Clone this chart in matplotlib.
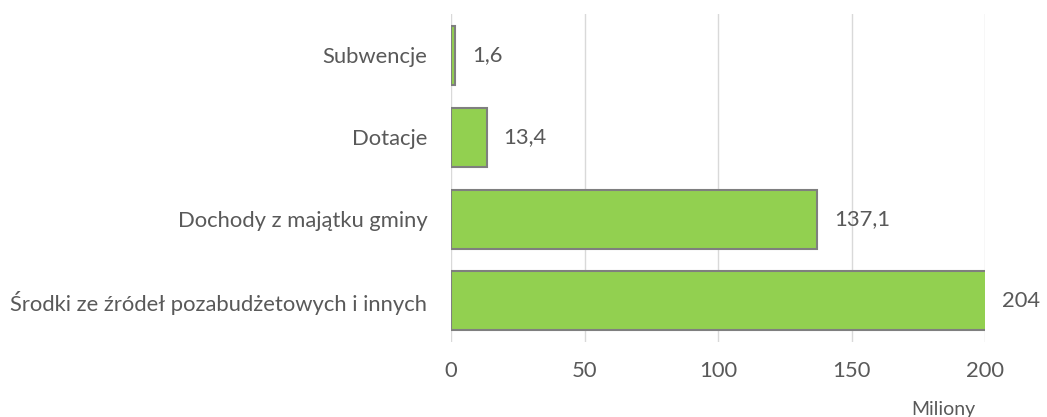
import matplotlib.pyplot as plt

# dane
kategorie = ["Środki ze źródeł pozabudżetowych i innych", "Dochody z majątku gminy", "Dotacje", "Subwencje"]
wartosci = [204, 137.1, 13.4, 1.6]
etykiety = ["204", "137,1", "13,4", "1,6"]
ticki = [0, 50, 100, 150, 200]

plt.rcParams['font.family'] = ['Lato', 'DejaVu Sans']
kolor_tekstu = "#595959"

fig = plt.figure(figsize=(10.47, 4.17), dpi=100)
ax = fig.add_axes([0.4308, 0.18, 0.51, 0.786])

ax.barh(range(len(kategorie)), wartosci, height=0.72, color="#92D050",
        edgecolor="#7F7F7F", linewidth=1.5, zorder=3)
ax.set_xlim(0, 200)
ax.set_ylim(-0.5, len(kategorie) - 0.5)
ax.set_xticks(ticks=ticki)
ax.set_xticklabels([str(t) for t in ticki])
ax.set_yticks(range(len(kategorie)))
ax.set_yticklabels(kategorie)
ax.tick_params(axis="both", length=0, labelsize=15.8, colors=kolor_tekstu)
ax.tick_params(axis="x", pad=14)
ax.tick_params(axis="y", pad=17)
ax.grid(axis="x", color="#D9D9D9", linewidth=1, zorder=0)
for s in ax.spines.values():
    s.set_visible(False)

# etykiety wartosci
for i, (v, e) in enumerate(zip(wartosci, etykiety)):
    ax.annotate(e, (min(v, 200), i), xytext=(12, 0), textcoords="offset points",
                va="center", ha="left", fontsize=15.8, color=kolor_tekstu, annotation_clip=False)

fig.text(0.901, 0.004, "Miliony", fontsize=14, color=kolor_tekstu, ha="center", va="baseline")

plt.savefig("out.png", dpi=100)
